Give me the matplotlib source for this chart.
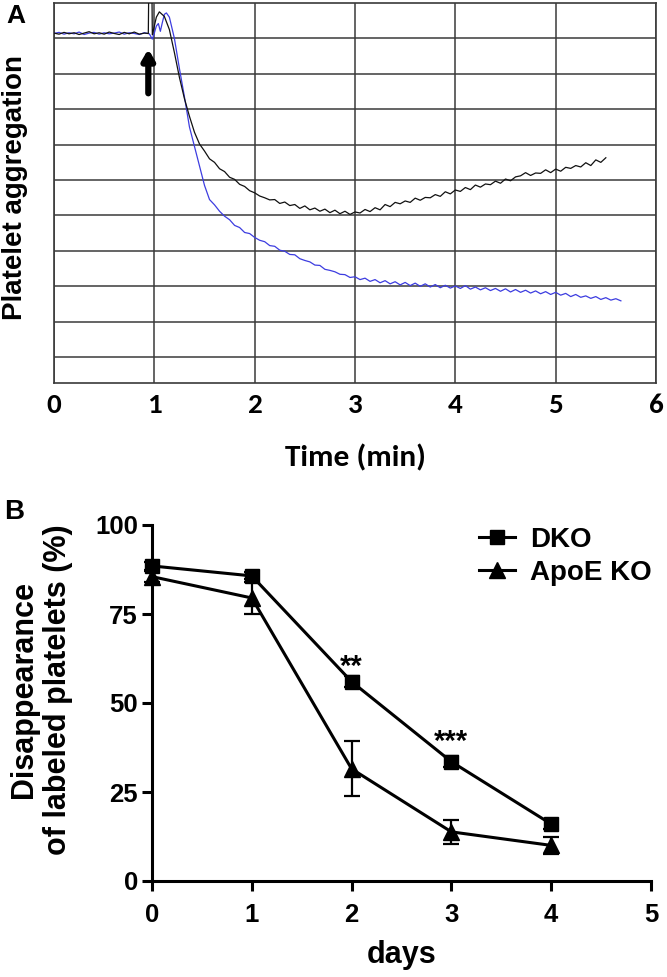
import numpy as np
import matplotlib
matplotlib.use("Agg")
import matplotlib.pyplot as plt
from matplotlib.lines import Line2D

plt.rcParams["font.family"] = ["Liberation Sans", "DejaVu Sans"]
plt.rcParams["font.weight"] = "bold"
narrow = ["Carlito", "Liberation Sans Narrow", "Liberation Sans", "DejaVu Sans"]

# --- panel A: aggregometer traces (grid units) ---
black_time_early = [0.00, 0.05, 0.10, 0.15, 0.20, 0.25, 0.30, 0.35, 0.40, 0.45,
                    0.50, 0.55, 0.60, 0.65, 0.70, 0.75, 0.80, 0.85, 0.90, 0.94,
                    0.945, 0.975, 0.98, 1.00, 1.02]
black_level_early = [9.15, 9.12, 9.17, 9.13, 9.16, 9.11, 9.15, 9.19, 9.13, 9.16,
                     9.12, 9.18, 9.14, 9.11, 9.17, 9.13, 9.18, 9.12, 9.15, 9.14,
                     10.6, 10.6, 9.10, 9.35, 9.60]
# every 0.05 min from 1.05 to 5.50
black_level_late = [9.75, 9.62, 9.25, 8.60, 7.90, 7.30, 6.80, 6.35, 6.02, 5.82,
                    5.60, 5.50, 5.32, 5.24, 5.08, 5.02, 4.88, 4.82, 4.70, 4.64,
                    4.55, 4.50, 4.44, 4.45, 4.34, 4.38, 4.28, 4.31, 4.20, 4.27,
                    4.16, 4.21, 4.12, 4.18, 4.08, 4.15, 4.05, 4.12, 4.03, 4.10,
                    4.07, 4.17, 4.11, 4.22, 4.16, 4.31, 4.25, 4.37, 4.33, 4.41,
                    4.37, 4.49, 4.43, 4.51, 4.50, 4.59, 4.54, 4.67, 4.61, 4.72,
                    4.68, 4.79, 4.73, 4.86, 4.80, 4.89, 4.87, 4.97, 4.91, 5.03,
                    4.98, 5.09, 5.12, 5.21, 5.13, 5.20, 5.19, 5.29, 5.21, 5.31,
                    5.25, 5.36, 5.33, 5.41, 5.37, 5.49, 5.41, 5.57, 5.50, 5.63]

blue_time_early = [0.00, 0.05, 0.10, 0.15, 0.20, 0.25, 0.30, 0.35, 0.40, 0.45,
                   0.50, 0.55, 0.60, 0.65, 0.70, 0.75, 0.80, 0.85, 0.90, 0.95,
                   0.98, 1.00, 1.02, 1.04, 1.06, 1.08, 1.10, 1.12, 1.15]
blue_level_early = [9.14, 9.17, 9.12, 9.16, 9.13, 9.18, 9.11, 9.15, 9.17, 9.12,
                    9.16, 9.13, 9.15, 9.18, 9.12, 9.16, 9.14, 9.11, 9.16, 9.13,
                    8.98, 9.15, 9.35, 9.42, 9.20, 9.45, 9.68, 9.72, 9.60]
# every 0.05 min from 1.20 to 5.65
blue_level_late = [9.00, 8.15, 7.35, 6.50, 5.95, 5.40, 4.85, 4.45, 4.30, 4.12,
                   3.98, 3.88, 3.72, 3.66, 3.52, 3.49, 3.38, 3.30, 3.26, 3.15,
                   3.13, 3.02, 2.99, 2.90, 2.89, 2.78, 2.73, 2.69, 2.60, 2.59,
                   2.48, 2.45, 2.41, 2.34, 2.33, 2.25, 2.27, 2.19, 2.23, 2.14,
                   2.19, 2.10, 2.16, 2.07, 2.13, 2.04, 2.11, 2.02, 2.09, 2.00,
                   2.07, 1.98, 2.05, 1.96, 2.03, 1.95, 2.01, 1.94, 2.02, 1.92,
                   1.98, 1.90, 1.96, 1.88, 1.94, 1.86, 1.93, 1.84, 1.91, 1.83,
                   1.89, 1.81, 1.87, 1.79, 1.85, 1.77, 1.83, 1.75, 1.80, 1.71,
                   1.77, 1.69, 1.73, 1.66, 1.71, 1.63, 1.68, 1.61, 1.65, 1.59]

arrow_time = 0.94
arrow_from, arrow_to = 7.45, 8.70

# --- panel B: labeled platelet disappearance ---
days = [0, 1, 2, 3, 4]
dko = [88.5, 85.7, 56.0, 33.5, 16.0]
dko_err = [1.0, 1.0, 1.5, 1.5, 1.5]
apoe = [85.5, 79.5, 31.5, 13.8, 10.0]
apoe_err = [1.5, 4.5, 7.7, 3.4, 2.5]
stars = {2: "**", 3: "***"}
star_y = {2: 57.9, 3: 36.8}

fig = plt.figure(figsize=(6.67, 9.77), dpi=100)

# ---------- A ----------
ax1 = fig.add_axes([54 / 667, 1 - 383 / 977, 602 / 667, 380 / 977])
bt = np.concatenate([black_time_early, 1.05 + 0.05 * np.arange(len(black_level_late))])
bv = np.concatenate([black_level_early, black_level_late])
ut = np.concatenate([blue_time_early, 1.20 + 0.05 * np.arange(len(blue_level_late))])
uv = np.concatenate([blue_level_early, blue_level_late])
ax1.plot(ut, uv, color="#3d3de0", lw=0.9, zorder=3)
ax1.plot(bt, bv, color="#111111", lw=0.9, zorder=4)
ax1.annotate("", xy=(arrow_time, arrow_to), xytext=(arrow_time, arrow_from),
             arrowprops=dict(arrowstyle="-|>,head_width=0.35,head_length=0.6",
                             lw=4.5, color="black", shrinkA=0, shrinkB=0),
             zorder=5)
ax1.set_xlim(0, 6)
ax1.set_ylim(-0.73, 10)
ax1.set_xticks(range(7))
ax1.set_yticks(range(10))
ax1.set_yticklabels([])
ax1.grid(True, color="#3a3a3a", lw=1.1)
ax1.tick_params(length=0, pad=7)
for lab in ax1.get_xticklabels():
    lab.set_fontfamily(narrow)
    lab.set_fontsize(21)
    lab.set_fontweight("bold")
for sp in ax1.spines.values():
    sp.set_color("#3a3a3a")
    sp.set_linewidth(1.2)
ax1.set_xlabel("Time (min)", family=narrow, fontsize=22.5, fontweight="bold", labelpad=20)
fig.text(15 / 667, 1 - 188 / 977, "Platelet aggregation", rotation=90,
         ha="center", va="center", fontsize=20, fontweight="bold")
fig.text(6 / 667, 1 - 16 / 977, "A", ha="left", va="center", fontsize=19, fontweight="bold")

# ---------- B ----------
ax2 = fig.add_axes([152 / 667, 1 - 881 / 977, 499 / 667, 356 / 977])
ax2.errorbar(days, dko, yerr=dko_err, color="black", lw=2.2, marker="s", ms=10,
             capsize=6, elinewidth=1.6, capthick=1.6, clip_on=False, label="DKO", zorder=4)
ax2.errorbar(days, apoe, yerr=apoe_err, color="black", lw=2.2, marker="^", ms=11,
             capsize=6, elinewidth=1.6, capthick=1.6, clip_on=False, label="ApoE KO", zorder=3)
for d, s in stars.items():
    ax2.text(d, star_y[d], s, ha="center", va="baseline", fontsize=21, fontweight="bold")
ax2.set_xlim(0, 5)
ax2.set_ylim(0, 100)
ax2.set_xticks(range(6))
ax2.set_yticks([0, 25, 50, 75, 100])
ax2.spines["top"].set_visible(False)
ax2.spines["right"].set_visible(False)
for sp in ("left", "bottom"):
    ax2.spines[sp].set_linewidth(2.2)
ax2.tick_params(axis="both", direction="out", length=7, width=2.2, labelsize=18.5)
ax2.tick_params(axis="x", pad=9)
ax2.tick_params(axis="y", pad=3)
for lab in ax2.get_xticklabels() + ax2.get_yticklabels():
    lab.set_fontweight("bold")
ax2.set_xlabel("days", fontsize=22, fontweight="bold", labelpad=9)
fig.text(41 / 667, 1 - 690 / 977, "Disappearance\nof labeled platelets (%)", rotation=90,
         ha="center", va="center", multialignment="center", fontsize=22,
         fontweight="bold", linespacing=1.2)
handles = [Line2D([], [], color="black", lw=2.2, marker="s", ms=10),
           Line2D([], [], color="black", lw=2.2, marker="^", ms=11)]
ax2.legend(handles, ["DKO", "ApoE KO"], loc="upper left", bbox_to_anchor=(0.655, 0.995),
           frameon=False, handlelength=1.3, handletextpad=0.55,
           labelspacing=0.25, borderpad=0, borderaxespad=0,
           prop={"weight": "bold", "size": 20})
fig.text(4 / 667, 1 - 512 / 977, "B", ha="left", va="center", fontsize=20, fontweight="bold")

fig.savefig("out.png", dpi=100)
